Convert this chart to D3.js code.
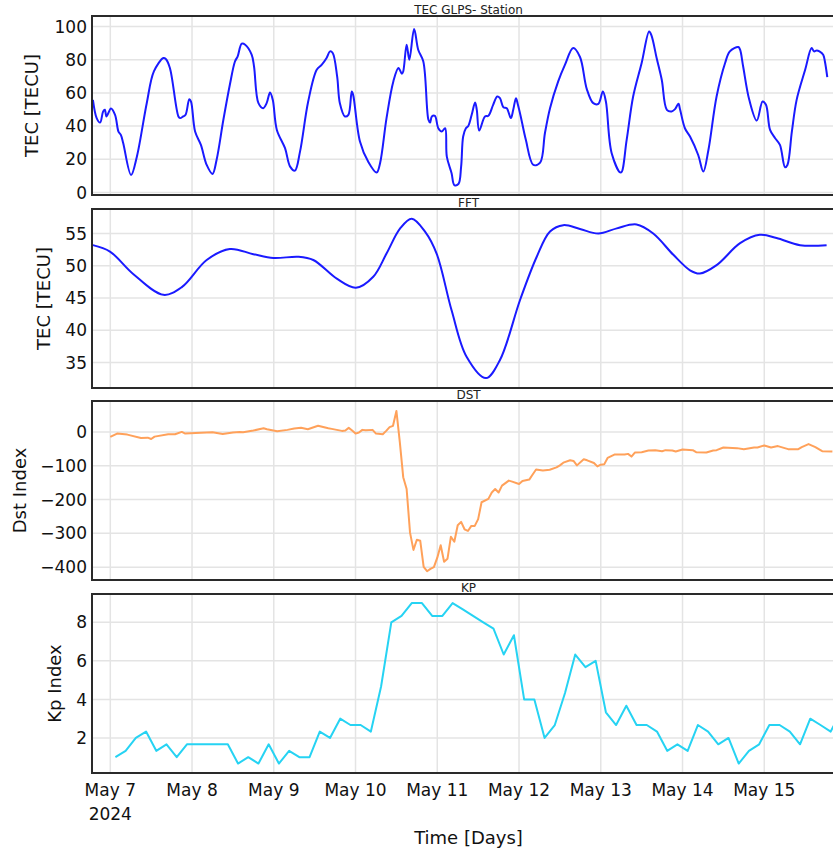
<!DOCTYPE html>
<html>
<meta charset="utf-8">
<style>
body { margin: 0; overflow: hidden; background: #fff; }
svg { display: block; font-family: "DejaVu Sans", Verdana, sans-serif; }
.grid line { stroke: #e4e4e4; stroke-width: 1.5; }
.tick-label { font-size: 17px; fill: #111; }
.axis-title { font-size: 18px; fill: #111; }
.sub-title { font-size: 12px; fill: #222; }
</style>
<body>
<script src="https://d3js.org/d3.v7.min.js"></script>
<script>
// hours counted from 2024-05-07 00:00
var tecHours = [-5.1,-4.0,-3.0,-2.1,-1.6,-1.1,0.2,1.4,2.4,3.1,3.8,6.1,7.8,10.7,12.8,15.6,16.3,17.5,20.0,20.5,21.4,22.1,23.2,23.7,24.9,26.6,28.3,30.0,31.2,33.2,35.1,36.6,37.4,38.6,39.6,41.5,42.2,43.5,44.9,45.9,46.9,47.7,48.9,51.3,52.8,54.2,55.7,58.1,60.6,62.1,63.5,64.5,65.3,66.6,67.4,68.9,69.9,70.9,71.3,73.3,75.7,78.2,79.2,81.1,83.1,84.6,85.6,86.0,87.0,87.8,89.2,90.4,91.9,93.4,93.9,94.4,95.3,96.3,97.3,98.3,98.8,100.2,101.0,102.2,103.0,103.6,104.4,105.1,106.1,107.1,107.6,108.3,110.0,111.0,112.4,113.6,114.4,115.4,116.4,117.6,118.3,119.1,119.6,120.5,122.0,124.2,126.2,127.6,129.1,131.5,133.5,135.9,137.9,139.9,141.8,143.3,144.6,145.5,147.2,149.9,151.6,153.5,156.0,158.2,158.9,160.4,161.9,163.4,164.8,165.8,166.8,167.3,168.7,170.2,172.6,174.1,175.6,178.0,180.5,181.9,184.4,184.9,185.8,187.6,189.8,191.5,192.5,193.7,195.2,196.6,198.1,198.8,200.1,201.5,204.0,205.9,206.6,207.4,208.2,209.3,209.8,210.5];
var tecValues = [55.8,44.8,42.1,48.8,49.8,45.8,50.6,46.8,36.7,34.7,29.7,10.6,21.6,53.8,72.9,81,80.4,75,45.8,44.8,45.8,46.8,56.2,54.8,36.7,28.7,16.6,11.2,19.6,43.8,64.9,78.9,82,89.6,89,83,75.9,53.8,50.8,53.8,60.2,55.8,37.7,26.7,15.6,13.2,24.6,54.8,73.9,77,81,85,84,69.9,53.8,45.8,46.8,60.8,58.8,30.7,18.6,12,17.6,44.8,66.9,75,71.5,72.9,89,80,98.5,86,78.9,43.8,42.1,45.8,46.2,38.7,36.7,38.7,21.6,11.6,4.5,5.1,15.6,33.7,38.7,40.1,46.8,54.2,49.8,37.3,45.8,46.2,52.8,57.8,56.8,51.4,50.8,44.8,49.8,56.8,53.4,45.8,31.7,16.6,18,35.7,50.8,66.9,77,87,81.6,62.3,53.8,53.4,60.8,54.8,23.7,12,31.7,57.8,78,97,94.5,81,67.9,49.8,48.8,50.2,53.4,49.8,38.7,33.7,22.6,12.6,25.6,57.8,78,85,87.6,86,75.9,55.8,43.3,54.8,52.8,37.7,32.7,28.7,15.2,16.6,36.7,55.8,73.9,87,85,85.5,85,83,78.9,69.5];

var fftHours = [-5.1,-0.1,6.8,15.6,21.0,28.3,35.1,42.0,47.9,55.2,59.6,66.5,72.1,77.2,81.1,85.1,88.5,92.4,95.8,100.2,104.6,110.3,114.4,120.3,125.2,129.1,133.0,137.9,143.3,148.7,154.5,159.4,165.3,170.2,173.1,178.0,184.9,190.7,195.6,202.5,210.3];
var fftValues = [53.2,52.2,48.7,45.5,46.7,50.9,52.6,51.8,51.2,51.4,50.9,48.0,46.6,48.3,51.9,55.8,57.3,55.3,51.9,43.1,35.9,32.6,35.4,44.7,51.4,55.3,56.3,55.7,55.0,55.8,56.4,55.0,51.7,49.3,48.8,50.1,53.5,54.8,54.3,53.2,53.2];

var dstHours = [0,2,5,9,11,12,13,17,19,21,22,25,30,33,36,38,39,42,45,46,49,52,54,56,58,61,64,65,68,69,70,71,72,73,74,75,77,78,80,81,82,83,84,85,86,87,88,89,90,91,92,93,94,95,96,97,98,99,100,101,102,103,104,105,106,107,108,109,111,112,113,114,115,117,118,120,121,123,124,125,127,129,131,132,133,135,136,137,139,140,142,143,144,145,146,148,151,152,153,154,156,158,160,162,163,165,166,168,171,172,175,177,178,180,184,186,189,190,192,194,196,199,202,203,205,207,209,212];
var dstValues = [-15,-5,-8,-18,-17,-21,-14,-7,-7,0,-5,-3,-1,-6,-2,0,-1,4,11,8,2,6,10,12,8,18,11,9,3,4,12,4,-5,-2,6,5,6,-5,-7,3,14,18,62,-30,-134,-169,-298,-349,-319,-322,-399,-412,-405,-400,-372,-335,-384,-375,-310,-325,-276,-266,-288,-293,-278,-278,-258,-208,-198,-179,-169,-179,-159,-144,-147,-154,-145,-141,-126,-111,-114,-112,-105,-99,-91,-84,-86,-99,-81,-84,-92,-102,-97,-96,-77,-67,-67,-65,-73,-61,-60,-55,-54,-57,-54,-55,-58,-52,-54,-60,-61,-55,-54,-46,-48,-51,-46,-46,-40,-46,-42,-51,-51,-45,-36,-45,-57,-58];

// 3-hourly Kp, first value at 01:30 on May 7
var kpValues = [1.0,1.33,2.0,2.33,1.33,1.67,1.0,1.67,1.67,1.67,1.67,1.67,0.67,1.0,0.67,1.67,0.67,1.33,1.0,1.0,2.33,2.0,3.0,2.67,2.67,2.33,4.67,8.0,8.33,9.0,9.0,8.33,8.33,9.0,8.67,8.33,8.0,7.67,6.33,7.33,4.0,4.0,2.0,2.67,4.33,6.33,5.67,6.0,3.33,2.67,3.67,2.67,2.67,2.33,1.33,1.67,1.33,2.67,2.33,1.67,2.0,0.67,1.33,1.67,2.67,2.67,2.33,1.67,3.0,2.67,2.33,3.33];

var dayTicks = ["May 7","May 8","May 9","May 10","May 11","May 12","May 13","May 14","May 15"];

var t0 = Date.UTC(2024, 4, 7);
function toDate(h) { return new Date(t0 + h * 3600e3); }

var width = 833, height = 851;
var left = 92, right = 845, panelH = 179;

var x = d3.scaleUtc()
    .domain([toDate(-5.37), toDate(215.7)])
    .range([left, right]);

var svg = d3.select("body").append("svg")
    .attr("width", width)
    .attr("height", height);

var panels = [
  {title: "TEC GLPS- Station", ytitle: "TEC [TECU]", top: 16, domain: [-1.5, 106.3], ticks: [0,20,40,60,80,100], tx: 32,
   data: tecHours.map(function(h, i) { return [toDate(h), tecValues[i]]; }), color: "#1a1aff", curve: d3.curveCatmullRom, w: 2},
  {title: "FFT", ytitle: "TEC [TECU]", top: 209, domain: [31.06, 58.8], ticks: [35,40,45,50,55], tx: 44,
   data: fftHours.map(function(h, i) { return [toDate(h), fftValues[i]]; }), color: "#1a1aff", curve: d3.curveCatmullRom, w: 2},
  {title: "DST", ytitle: "Dst Index", top: 401, domain: [-438, 91.4], ticks: [-400,-300,-200,-100,0], tx: 20,
   data: dstHours.map(function(h, i) { return [toDate(h), dstValues[i]]; }), color: "#ffa15a", curve: d3.curveLinear, w: 2},
  {title: "KP", ytitle: "Kp Index", top: 594, domain: [0.18, 9.47], ticks: [2,4,6,8], tx: 55,
   data: kpValues.map(function(v, i) { return [toDate(1.5 + 3 * i), v]; }), color: "#26d3f3", curve: d3.curveLinear, w: 2}
];

var dayDates = dayTicks.map(function(d, i) { return toDate(24 * i); });
var fmt = d3.format("");

panels.forEach(function(p, k) {
  var y = d3.scaleLinear().domain(p.domain).range([p.top + panelH, p.top]);
  var g = svg.append("g");

  g.append("clipPath").attr("id", "clip" + k).append("rect")
      .attr("x", left).attr("y", p.top).attr("width", right - left).attr("height", panelH);

  // gridlines
  var grid = g.append("g").attr("class", "grid");
  grid.selectAll(".vx").data(dayDates).enter().append("line")
      .attr("x1", function(d) { return x(d); }).attr("x2", function(d) { return x(d); })
      .attr("y1", p.top).attr("y2", p.top + panelH);
  grid.selectAll(".hy").data(p.ticks).enter().append("line")
      .attr("x1", left).attr("x2", right)
      .attr("y1", function(d) { return y(d); }).attr("y2", function(d) { return y(d); });

  // y tick labels
  g.selectAll(".tick-label").data(p.ticks).enter().append("text")
      .attr("class", "tick-label")
      .attr("x", 87).attr("y", function(d) { return y(d); })
      .attr("dy", "0.36em")
      .style("text-anchor", "end")
      .text(function(d) { return fmt(d); });

  // line
  var line = d3.line().curve(p.curve)
      .x(function(d) { return x(d[0]); })
      .y(function(d) { return y(d[1]); });
  g.append("path").datum(p.data)
      .attr("clip-path", "url(#clip" + k + ")")
      .attr("d", line)
      .attr("fill", "none")
      .attr("stroke", p.color)
      .attr("stroke-width", p.w)
      .attr("stroke-linejoin", "round");

  // frame
  g.append("rect")
      .attr("x", left).attr("y", p.top).attr("width", right - left).attr("height", panelH)
      .attr("fill", "none").attr("stroke", "#2a2a2a").attr("stroke-width", 2);

  // titles
  g.append("text").attr("class", "sub-title")
      .attr("x", (left + right) / 2).attr("y", p.top - 2.5)
      .style("text-anchor", "middle")
      .text(p.title);
  g.append("text").attr("class", "axis-title")
      .attr("transform", "translate(" + p.tx + "," + (p.top + panelH / 2) + ") rotate(-90)")
      .attr("dy", "0.35em")
      .style("text-anchor", "middle")
      .text(p.ytitle);
});

// x axis labels under bottom panel
var xl = svg.append("g");
xl.selectAll("text").data(dayTicks).enter().append("text")
    .attr("class", "tick-label")
    .attr("x", function(d, i) { return x(dayDates[i]); })
    .attr("y", 796)
    .style("text-anchor", "middle")
    .text(function(d) { return d; });
xl.append("text").attr("class", "tick-label")
    .attr("x", x(dayDates[0])).attr("y", 820)
    .style("text-anchor", "middle")
    .text("2024");
svg.append("text").attr("class", "axis-title")
    .attr("x", (left + right) / 2).attr("y", 844)
    .style("text-anchor", "middle")
    .text("Time [Days]");
</script>
</body>
</html>
